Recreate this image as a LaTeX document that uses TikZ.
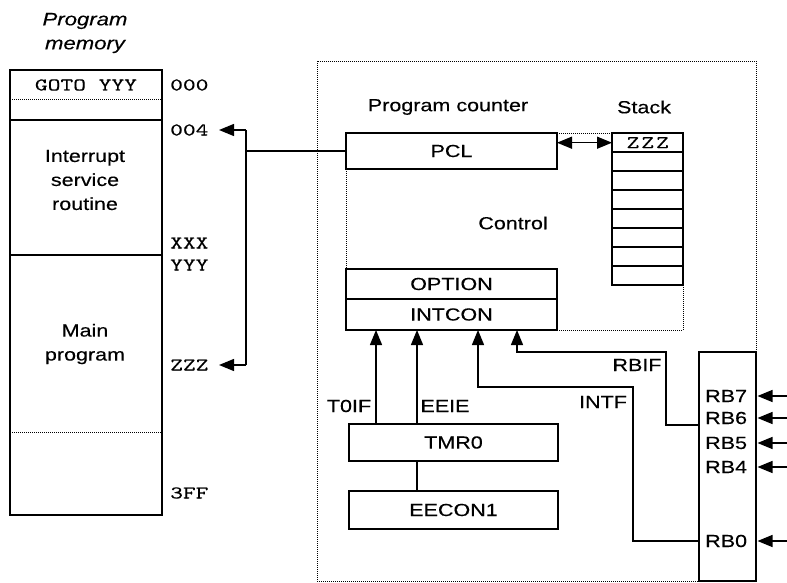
\documentclass[tikz,border=0pt]{standalone}
\usepackage{fontspec}
\setsansfont[FakeStretch=1.23,FakeBold=0.3]{Liberation Sans}
\newfontfamily\mymono{lmmono10-regular.otf}[FakeStretch=1.35,FakeBold=0.25]
\usetikzlibrary{arrows.meta,calc}
\begin{document}
\begin{tikzpicture}[x=1pt,y=-1pt,
  font=\sffamily\fontsize{17.5}{24}\selectfont,
  box/.style={draw, line width=1.4pt, fill=white, inner sep=0pt, outer sep=0pt, anchor=north west},
  lbl/.style={inner sep=0pt},
  monof/.style={font=\mymono\fontsize{18}{20}\selectfont},
  addr/.style={inner sep=0pt, anchor=west, monof},
  arr/.style={line width=1.3pt, -{Triangle[length=15pt,width=12pt]}},
  darr/.style={line width=1.3pt, {Triangle[length=15pt,width=12pt]}-{Triangle[length=15pt,width=12pt]}},
  conn/.style={line width=1.3pt},
  dots/.style={line width=0.8pt, dash pattern=on 1pt off 1pt}]
\useasboundingbox (0,0) rectangle (787,583);

% ---------- program memory ----------
\node[lbl, align=center, font=\sffamily\itshape\fontsize{18}{24}\selectfont] (title) at (85,33) {Program\\memory};
\node[box, minimum width=152pt, minimum height=445pt] (mem) at (10,70) {};
\draw[dots] (10,99) -- (162,99);
\draw[line width=1.4pt] (10,120) -- (162,120);
\draw[line width=1.4pt] (10,255) -- (162,255);
\draw[dots] (10,432) -- (162,432);
\node[lbl, monof] (goto) at (86,85) {GOTO YYY};
\node[lbl, align=center] (isr) at (85,180) {Interrupt\\service\\routine};
\node[lbl, align=center] (mainp) at (85,344) {Main\\program};
\node[addr] (a000) at (170,85) {000};
\node[addr] (a004) at (170,130) {004};
\node[addr] (axxx) at (170,243) {XXX};
\node[addr] (ayyy) at (170,265) {YYY};
\node[addr] (azzz) at (170,365) {ZZZ};
\node[addr] (a3ff) at (170,493) {3FF};

% bracket
\coordinate (tipA) at (219,130);
\coordinate (tipB) at (219,365);
\coordinate (brA) at (246,130);
\coordinate (brB) at (246,365);

% ---------- control area ----------
\draw[dots] (346,133) rectangle (683,330);
\node[box, minimum width=211pt, minimum height=36pt] (pcl) at (346,133) {PCL};
\node[box, minimum width=211pt, minimum height=30pt] (option) at (346,269) {OPTION};
\node[box, minimum width=211pt, minimum height=31pt] (intcon) at (346,299) {INTCON};
\node[lbl] (pclab) at (448,107) {Program counter};
\node[lbl] (stlab) at (644,107) {Stack};
\node[lbl] (ctrl) at (513,223) {Control};

% stack
\node[box, minimum width=71pt, minimum height=152pt] (stack) at (612,133) {};
\foreach \i in {1,...,7} \draw[line width=1.4pt] (612,{133+19*\i}) -- (683,{133+19*\i});
\node[inner sep=0pt, minimum width=71pt, minimum height=19pt, anchor=north west, monof] (zzz) at (612,133) {Z\hspace{2pt}Z\hspace{2pt}Z};

\draw[darr] (pcl.east |- zzz.west) -- (zzz.west);

% memory bracket connection
\coordinate (brM) at (246,151);
\draw[conn] (pcl.west) -- (brM);
\draw[conn] (brA) -- (brB);
\draw[arr] (brA) -- (tipA);
\draw[arr] (brB) -- (tipB);

% ---------- timer ----------
\node[box, minimum width=209pt, minimum height=37pt] (tmr) at (349,424) {TMR0};
\node[box, minimum width=209pt, minimum height=38pt] (eecon) at (349,491) {EECON1};
\coordinate (xa) at (376,0);
\coordinate (xb) at (417,0);
\coordinate (xc) at (478,0);
\coordinate (xd) at (517,0);
\draw[arr] (tmr.north -| xa) -- (intcon.south -| xa);
\draw[arr] (tmr.north -| xb) -- (intcon.south -| xb);
\draw[conn] (tmr.south -| xb) -- (eecon.north -| xb);
\node[lbl] (t0if) at (349,406) {T0IF};
\node[lbl] (eeie) at (445,406) {EEIE};

% ---------- port B ----------
\node[box, minimum width=57pt, minimum height=229pt] (rbbox) at (699,352) {};
\foreach \n/\y in {7/396,6/418,5/443,4/467,0/541}{
  \node[lbl, anchor=west] (lrb\n) at (705,\y) {RB\n};
  \coordinate (in\n) at (787,\y);
  \draw[arr, shorten >=1.5pt] (in\n) -- (rbbox.east |- lrb\n);
}
\coordinate (intfc) at (633,387);
\coordinate (rbifc) at (666,352);
\coordinate (yrbif) at (0,425);
\draw[arr] (rbbox.west |- lrb0) -| (intfc) -| (intcon.south -| xc);
\draw[arr] (rbbox.west |- yrbif) -| (rbifc) -| (intcon.south -| xd);
\node[lbl] (intf) at (603,402) {INTF};
\node[lbl] (rbif) at (637,365) {RBIF};

% outer dotted frame
\draw[dots] (rbbox.north east) -- (756,61) -- (317,61) -- (317,581) -- (rbbox.south west);
\end{tikzpicture}
\end{document}
